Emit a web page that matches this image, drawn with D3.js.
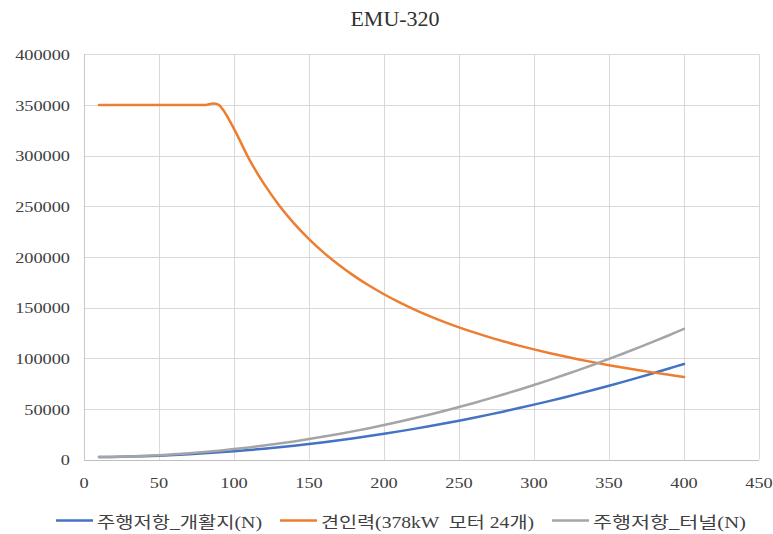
<!DOCTYPE html>
<html>
<head>
<meta charset="utf-8">
<script src="https://cdn.jsdelivr.net/npm/d3@7"></script>
<style>
  html, body { margin: 0; padding: 0; background: #fff; }
  svg { display: block; }
</style>
</head>
<body>
<svg id="chart" width="773" height="534"></svg>
<script>
// ---- data ----
const title = "EMU-320";
const speeds = [10,20,30,40,50,60,70,80,90,100,110,120,130,140,150,160,170,180,190,200,
  210,220,230,240,250,260,270,280,290,300,310,320,330,340,350,360,370,380,390,400];
const resistOpen = [2570,2750,3050,3460,3980,4620,5380,6240,7230,8330,9540,10860,12310,13860,15530,17320,19220,21230,23360,25600,
  27960,30430,33020,35720,38530,41460,44510,47660,50940,54330,57830,61440,65180,69020,72980,77060,81250,85550,89970,94500];
const traction = [350000,350000,350000,350000,350000,350000,350000,350000,350000,326590,296900,272160,251230,233280,217730,204120,192110,181440,171890,163300,
  155520,148450,142000,136080,130640,125610,120960,116640,112620,108860,105350,102060,98970,96060,93310,90720,88270,85950,83740,81650];
const resistTunnel = [2580,2830,3230,3780,4500,5370,6410,7600,8940,10450,12110,13940,15920,18050,20350,22800,25420,28190,31110,34200,
  37440,40850,44410,48120,52000,56030,60230,64580,69080,73750,78570,83560,88700,93990,99450,105060,110840,116770,122850,129100];
const seriesNames = ["주행저항_개활지(N)", "견인력(378kW  모터 24개)", "주행저항_터널(N)"];
const seriesColors = ["#4472C4", "#ED7D31", "#A5A5A5"];
const xTicks = [0,50,100,150,200,250,300,350,400,450];
const yTicks = [0,50000,100000,150000,200000,250000,300000,350000,400000];

// ---- layout ----
const svg = d3.select("#chart");
const pLeft = 84, pRight = 759, pTop = 54.4, pBottom = 459.7;
const x = d3.scaleLinear().domain([0, 450]).range([pLeft, pRight]);
const y = d3.scaleLinear().domain([0, 400000]).range([pBottom, pTop]);
const serif = "'Liberation Serif','Times New Roman',serif";
const mixed = "'Liberation Serif','Noto Sans CJK KR',serif";

// gridlines
svg.append("g").selectAll("line").data(yTicks.slice(1)).join("line")
  .attr("x1", pLeft).attr("x2", pRight)
  .attr("y1", d => Math.round(y(d)) + 0.5).attr("y2", d => Math.round(y(d)) + 0.5)
  .attr("stroke", "#d9d9d9").attr("stroke-width", 1);
svg.append("g").selectAll("line").data(xTicks.slice(1)).join("line")
  .attr("x1", d => Math.round(x(d)) + 0.5).attr("x2", d => Math.round(x(d)) + 0.5)
  .attr("y1", pTop).attr("y2", pBottom)
  .attr("stroke", "#d9d9d9").attr("stroke-width", 1);
// axis lines
svg.append("line").attr("x1", pLeft + 0.5).attr("x2", pLeft + 0.5).attr("y1", pTop).attr("y2", pBottom)
  .attr("stroke", "#c8c8c8").attr("stroke-width", 1);
svg.append("line").attr("x1", pLeft).attr("x2", pRight).attr("y1", Math.round(pBottom) + 0.5).attr("y2", Math.round(pBottom) + 0.5)
  .attr("stroke", "#bfbfbf").attr("stroke-width", 1);

// stretched text helper
function stretchedText(g, str, tx, ty, size, sx, anchor, family) {
  return g.append("text")
    .attr("transform", `translate(${tx},${ty}) scale(${sx},1)`)
    .attr("font-family", family || serif)
    .attr("font-size", size)
    .attr("text-anchor", anchor)
    .attr("fill", "#404040")
    .text(str);
}

// y tick labels
const yg = svg.append("g");
yTicks.forEach(t => stretchedText(yg, String(t), 70, y(t) + 5.5, 15.5, 1.18, "end"));
// x tick labels
const xg = svg.append("g");
xTicks.forEach(t => stretchedText(xg, String(t), x(t), 488, 15.5, 1.18, "middle"));

// title
stretchedText(svg, title, 395, 26, 20, 1.1, "middle").attr("fill", "#303030");

// lines
const line = d3.line().x(d => x(d[0])).y(d => y(d[1])).curve(d3.curveCardinal.tension(0));
[resistOpen, traction, resistTunnel].forEach((vals, i) => {
  svg.append("path")
    .datum(speeds.map((s, j) => [s, vals[j]]))
    .attr("d", line)
    .attr("fill", "none")
    .attr("stroke", seriesColors[i])
    .attr("stroke-width", 2.5)
    .attr("stroke-linecap", "round");
});

// legend
const legendItems = [
  {lx: 56, tx: 97, w: 165},
  {lx: 280, tx: 321, w: 213},
  {lx: 552, tx: 593, w: 153}
];
const lg = svg.append("g");
legendItems.forEach((it, i) => {
  lg.append("line").attr("x1", it.lx).attr("x2", it.lx + 37).attr("y1", 520.5).attr("y2", 520.5)
    .attr("stroke", seriesColors[i]).attr("stroke-width", 2.5);
  lg.append("text")
    .attr("x", it.tx).attr("y", 528)
    .attr("font-family", mixed)
    .attr("font-size", 16)
    .attr("fill", "#404040")
    .attr("textLength", it.w)
    .attr("lengthAdjust", "spacingAndGlyphs")
    .style("white-space", "pre")
    .text(seriesNames[i]);
});
</script>
</body>
</html>
